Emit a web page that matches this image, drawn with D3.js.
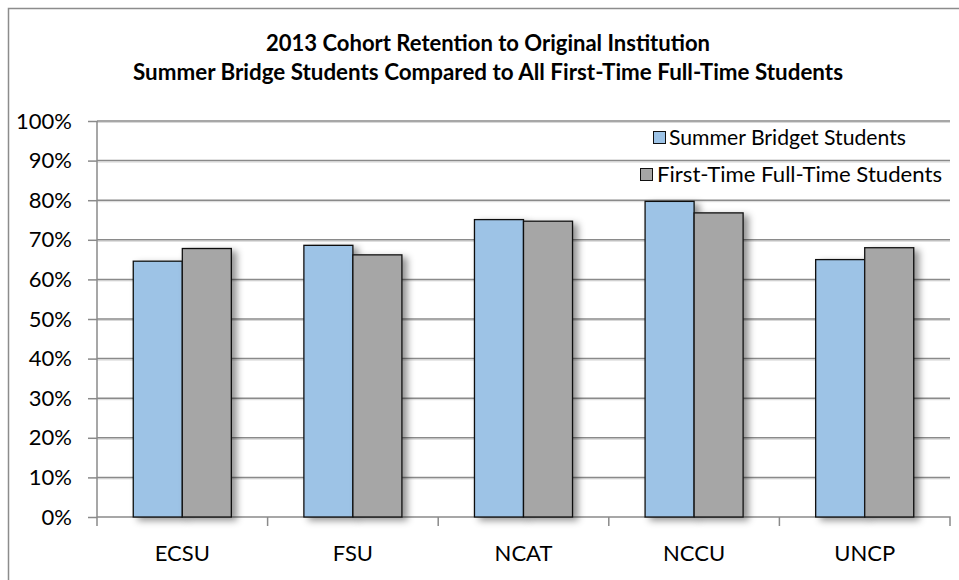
<!DOCTYPE html>
<html>
<head>
<meta charset="utf-8">
<script src="https://cdn.jsdelivr.net/npm/d3@7"></script>
<style>
  html, body { margin: 0; padding: 0; background: #fff; }
  svg { display: block; }
  text { font-family: Lato, "Open Sans", sans-serif; fill: #000; }
</style>
</head>
<body>
<svg id="chart" width="959" height="580"></svg>
<script>
const titleLines = ["2013 Cohort Retention to Original Institution",
                    "Summer Bridge Students Compared to All First-Time Full-Time Students"];
const categories = ["ECSU", "FSU", "NCAT", "NCCU", "UNCP"];
const seriesNames = ["Summer Bridget Students", "First-Time Full-Time Students"];
const summerBridge = [0.646, 0.686, 0.751, 0.797, 0.650];
const firstTimeFullTime = [0.678, 0.662, 0.747, 0.768, 0.680];
const seriesColors = ["#9dc3e6", "#a6a6a6"];
const yTicks = [0, 0.1, 0.2, 0.3, 0.4, 0.5, 0.6, 0.7, 0.8, 0.9, 1.0];
const yTickLabels = ["0%", "10%", "20%", "30%", "40%", "50%", "60%", "70%", "80%", "90%", "100%"];

const seriesValues = [summerBridge, firstTimeFullTime];

const svg = d3.select("#chart");

// defs: shadows
const defs = svg.append("defs");
const f = defs.append("filter").attr("id", "barShadow")
  .attr("x", "-20%").attr("y", "-10%").attr("width", "170%").attr("height", "130%");
f.append("feDropShadow").attr("dx", 5).attr("dy", 3).attr("stdDeviation", 3.5)
  .attr("flood-color", "#000").attr("flood-opacity", 0.42);

// Outer chart border
svg.append("rect")
  .attr("x", 8.5).attr("y", 8.5).attr("width", 970).attr("height", 600)
  .attr("fill", "#fff").attr("stroke", "#8c8c8c").attr("stroke-width", 1.5);

// Scales
const plotLeft = 97, plotRight = 950, plotTop = 121, plotBottom = 517;
const y = d3.scaleLinear().domain([0, 1]).range([plotBottom, plotTop]);
const x0 = d3.scaleBand().domain(categories).range([plotLeft, plotRight])
  .paddingInner(0).paddingOuter(0);
const x1 = d3.scaleBand().domain(d3.range(seriesNames.length))
  .range([0, x0.bandwidth()]).paddingInner(0).paddingOuter(0.74);

// Gridlines
const grid = svg.append("g");
yTicks.filter(t => t > 0).forEach(t => {
  grid.append("line")
    .attr("x1", plotLeft).attr("x2", plotRight)
    .attr("y1", y(t) + 1.5).attr("y2", y(t) + 1.5)
    .attr("stroke", "#d8d8d8").attr("stroke-width", 1);
  grid.append("line")
    .attr("x1", plotLeft).attr("x2", plotRight)
    .attr("y1", y(t)).attr("y2", y(t))
    .attr("stroke", "#8a8a8a").attr("stroke-width", 1.5);
});

// Y axis
const yAxis = d3.axisLeft(y).tickValues(yTicks)
  .tickFormat((d, i) => yTickLabels[i]).tickSize(9).tickPadding(16);
const yG = svg.append("g").attr("transform", `translate(${plotLeft},0)`).call(yAxis);
yG.select(".domain").attr("stroke", "#8a8a8a").attr("stroke-width", 1.5)
  .attr("d", `M0,${plotTop}V${plotBottom + 9}`);
yG.selectAll(".tick line").attr("stroke", "#8a8a8a").attr("stroke-width", 1.5);
yG.selectAll(".tick text").attr("font-size", 22).attr("fill", "#000")
  .attr("font-family", "Lato, sans-serif");

// X axis
const xAxis = d3.axisBottom(x0).tickSize(0).tickPadding(28);
const xG = svg.append("g").attr("transform", `translate(0,${plotBottom})`).call(xAxis);
xG.select(".domain").attr("stroke", "#8a8a8a").attr("stroke-width", 1.5)
  .attr("d", `M${plotLeft},0H${plotRight}V9`);
xG.selectAll(".tick text").attr("font-size", 22).attr("fill", "#000")
  .attr("font-family", "Lato, sans-serif");
// category boundary ticks
const bounds = categories.map(c => x0(c)).slice(1);
xG.selectAll(".bound").data(bounds).enter().append("line")
  .attr("class", "bound")
  .attr("x1", d => d).attr("x2", d => d).attr("y1", 0).attr("y2", 9)
  .attr("stroke", "#8a8a8a").attr("stroke-width", 1.5);

// Bars
const barsG = svg.append("g");
categories.forEach((c, ci) => {
  seriesValues.forEach((vals, si) => {
    barsG.append("rect")
      .attr("x", x0(c) + x1(si))
      .attr("y", y(vals[ci]))
      .attr("width", x1.bandwidth())
      .attr("height", y(0) - y(vals[ci]))
      .attr("fill", seriesColors[si])
      .attr("stroke", "#111")
      .attr("stroke-width", 1.3)
      .attr("filter", "url(#barShadow)");
  });
});

// Title
const titleG = svg.append("g");
const titleBase = [51, 80];
const titleLen = [444, 710];
titleLines.forEach((t, i) => {
  titleG.append("text")
    .attr("x", 488).attr("y", titleBase[i])
    .attr("text-anchor", "middle")
    .attr("font-size", 22).attr("font-weight", "bold")
    .attr("textLength", titleLen[i]).attr("lengthAdjust", "spacingAndGlyphs")
    .text(t);
});

// Legend
const legendItems = [
  { sx: 653, base: 145, tx: 669, len: 237 },
  { sx: 640, base: 182, tx: 657, len: 285 }
];
const legG = svg.append("g");
seriesNames.forEach((name, i) => {
  const it = legendItems[i];
  legG.append("rect")
    .attr("x", it.sx + 0.5).attr("y", it.base - 13.5)
    .attr("width", 12).attr("height", 12)
    .attr("fill", seriesColors[i]).attr("stroke", "#111").attr("stroke-width", 1);
  legG.append("text")
    .attr("x", it.tx).attr("y", it.base)
    .attr("font-size", 22)
    .attr("textLength", it.len).attr("lengthAdjust", "spacingAndGlyphs")
    .text(name);
});
</script>
</body>
</html>
